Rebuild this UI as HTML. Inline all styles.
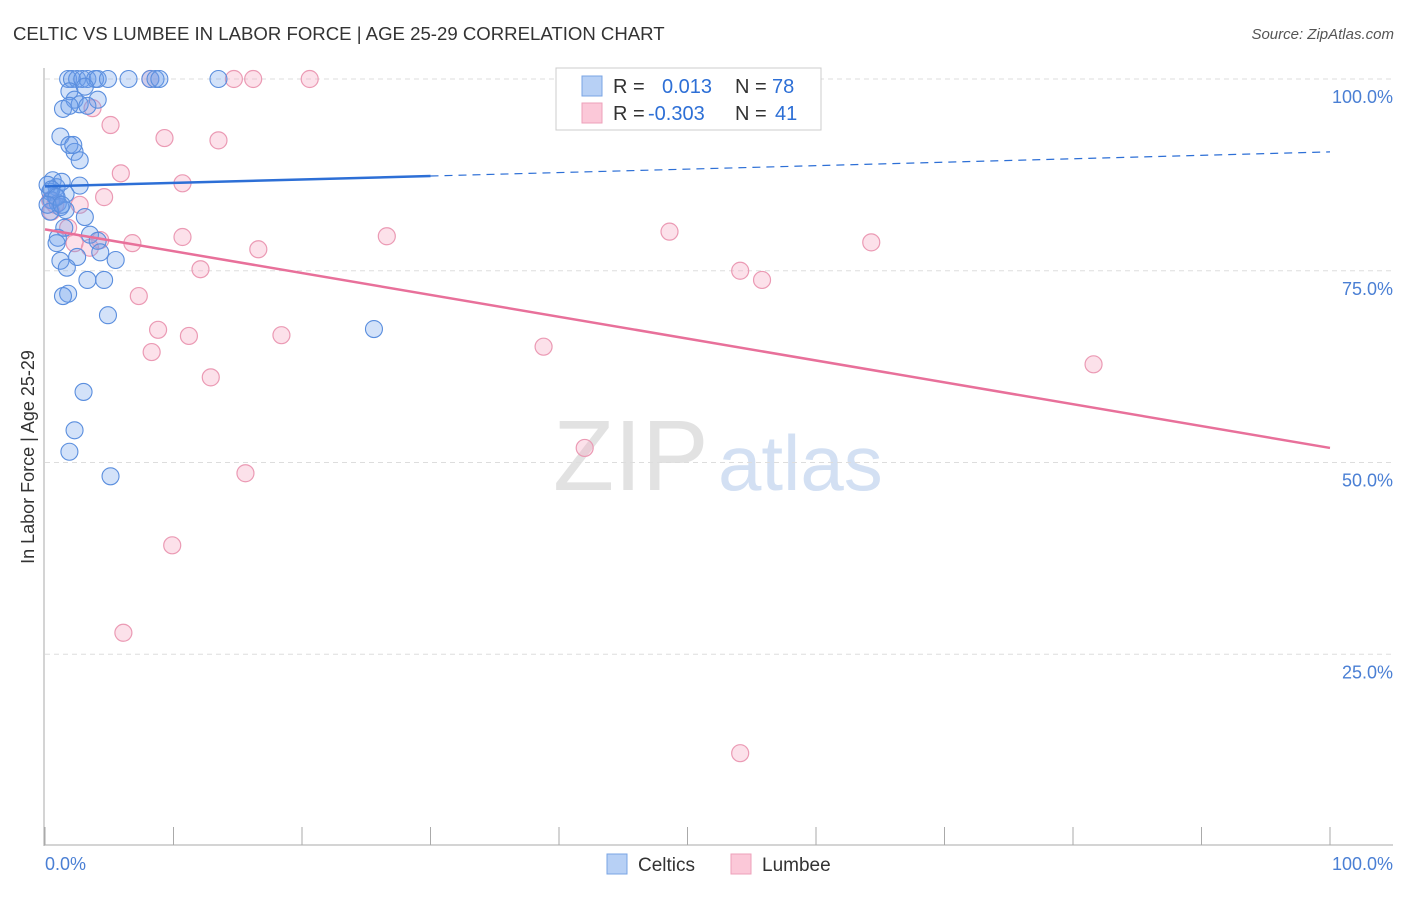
<!DOCTYPE html>
<html><head><meta charset="utf-8"><style>
body{margin:0;background:#fff;font-family:"Liberation Sans",sans-serif}
svg text{font-family:"Liberation Sans",sans-serif}
</style></head><body>
<svg id="c" width="1406" height="892">
<text x="13" y="40" font-size="18.6" fill="#333">CELTIC VS LUMBEE IN LABOR FORCE | AGE 25-29 CORRELATION CHART</text>
<text x="1394" y="39" font-size="15" fill="#555" font-style="italic" text-anchor="end">Source: ZipAtlas.com</text>
<text x="553" y="490" font-size="100" fill="#e2e2e2" font-family="Liberation Serif">ZIP</text>
<text x="718" y="490" font-size="78" fill="#d3e0f3">atlas</text>
<text transform="translate(34,457) rotate(-90)" font-size="18" fill="#333" text-anchor="middle">In Labor Force | Age 25-29</text>
<g id="grid"></g><g id="pts"></g><g id="lines"></g>
<rect x="556" y="68" width="265" height="62" fill="#fff" stroke="#ccc"/>
<rect x="582" y="76" width="20" height="20" fill="#b7d0f5" stroke="#7aa4e4"/>
<rect x="582" y="103" width="20" height="20" fill="#fbc8d8" stroke="#eea0ba"/>
<text font-size="20" fill="#333"><tspan x="613" y="93">R = </tspan><tspan x="662" fill="#2d6fd6">0.013</tspan><tspan x="735">N = </tspan><tspan x="772" fill="#2d6fd6">78</tspan></text>
<text font-size="20" fill="#333"><tspan x="613" y="120">R = </tspan><tspan x="648" fill="#2d6fd6">-0.303</tspan><tspan x="735">N = </tspan><tspan x="775" fill="#2d6fd6">41</tspan></text>
<rect x="607" y="854" width="20" height="20" fill="#b7d0f5" stroke="#7aa4e4"/>
<text x="638" y="871" font-size="19" fill="#333">Celtics</text>
<rect x="731" y="854" width="20" height="20" fill="#fbc8d8" stroke="#eea0ba"/>
<text x="762" y="871" font-size="19" fill="#333">Lumbee</text>
<text x="45" y="870" font-size="18" fill="#4a7fd4">0.0%</text>
<text x="1393" y="870" font-size="18" fill="#4a7fd4" text-anchor="end">100.0%</text>
</svg>
<script>
const yTicks=[100,75,50,25];
const yTickLabels=["100.0%","75.0%","50.0%","25.0%"];
const blueX=[1.8,2.1,2.5,2.9,3.3,3.9,4.1,4.9,6.5,8.2,8.6,8.9,13.5,1.9,3.1,4.1,2.3,2.7,3.3,1.4,1.9,1.2,1.9,2.3,2.7,2.2,0.6,0.9,1.3,2.7,0.4,0.8,1.6,0.5,1.0,1.2,1.6,0.4,3.1,1.5,3.5,1.0,0.9,4.1,4.3,2.5,1.2,5.5,1.7,3.3,4.6,1.8,1.4,4.9,25.6,3.0,2.3,1.9,5.1,0.2,0.5,0.9,0.2,1.3];
const blueY=[100,100,100,100,100,100,100,100,100,100,100,100,100,98.4,99,97.3,97.3,96.7,96.5,96.1,96.5,92.5,91.4,90.5,89.4,91.4,86.8,85.9,86.6,86.1,85.3,84.7,85.0,84.2,83.8,83.3,82.9,82.7,82.0,80.6,79.7,79.3,78.6,78.9,77.4,76.8,76.3,76.4,75.4,73.8,73.8,72.0,71.7,69.2,67.4,59.2,54.2,51.4,48.2,86.2,85.6,84.6,83.6,83.6];
const pinkX=[8.2,14.7,16.2,20.6,3.7,5.1,9.3,13.5,5.9,10.7,4.6,2.7,0.5,1.8,10.7,4.3,6.8,16.6,26.6,48.6,64.3,12.1,54.1,55.8,7.3,8.8,11.2,18.4,8.3,38.8,12.9,81.6,42.0,15.6,9.9,6.1,54.1,0.4,0.8,2.3,3.5];
const pinkY=[100,100,100,100,96.2,94.0,92.3,92.0,87.7,86.4,84.6,83.6,82.7,80.6,79.4,79.0,78.6,77.8,79.5,80.1,78.7,75.2,75.0,73.8,71.7,67.3,66.5,66.6,64.4,65.1,61.1,62.8,51.9,48.6,39.2,27.8,12.1,84.2,83.6,78.6,78.0];
const blueFit=[86.0,90.5], pinkFit=[80.4,51.9];
const X=v=>45+v*12.85, Y=v=>846-v*7.67;
const NS="http://www.w3.org/2000/svg";
function mk(t,a,p){const e=document.createElementNS(NS,t);for(const k in a)e.setAttribute(k,a[k]);p.appendChild(e);return e;}
const g=document.getElementById('grid');
yTicks.forEach((t,i)=>{
 const l=mk('line',{x1:45,x2:1393,y1:Y(t),y2:Y(t),stroke:'#ddd','stroke-dasharray':'5,4'},g);
 
 
 const tx=mk('text',{x:1393,y:Y(t)+24,'font-size':18,fill:'#4a7fd4','text-anchor':'end'},g);
 tx.textContent=yTickLabels[i];
 
 
});
const ax=mk('line',{x1:44,x2:44,y1:68,y2:846,stroke:'#aaa'},g);


const bx=mk('line',{x1:44,x2:1393,y1:845,y2:845,stroke:'#aaa'},g);


for(let i=0;i<=10;i++){const tk=mk('line',{x1:X(i*10),x2:X(i*10),y1:827,y2:845,stroke:'#aaa'},g);
 
 }
const p=document.getElementById('pts');
pinkX.forEach((x,i)=>{const c=mk('circle',{cx:X(x),cy:Y(pinkY[i]),r:8.5,fill:'rgba(246,170,196,0.35)',stroke:'#eb9ab4','stroke-width':1.2},p);
 
 });
blueX.forEach((x,i)=>{const c=mk('circle',{cx:X(x),cy:Y(blueY[i]),r:8.5,fill:'rgba(110,160,235,0.3)',stroke:'#5a8ede','stroke-width':1.1},p);
 
 });
const L=document.getElementById('lines');
const fb=x=>blueFit[0]+(blueFit[1]-blueFit[0])*x/100, fp=x=>pinkFit[0]+(pinkFit[1]-pinkFit[0])*x/100;
let a=mk('line',{x1:X(0),y1:Y(fb(0)),x2:X(30),y2:Y(fb(30)),stroke:'#2d6fd6','stroke-width':2.5},L);


a=mk('line',{x1:X(30),y1:Y(fb(30)),x2:X(100),y2:Y(fb(100)),stroke:'#2d6fd6','stroke-width':1.2,'stroke-dasharray':'8,6'},L);


a=mk('line',{x1:X(0),y1:Y(fp(0)),x2:X(100),y2:Y(fp(100)),stroke:'#e8709a','stroke-width':2.5},L);


</script>
</body></html>
